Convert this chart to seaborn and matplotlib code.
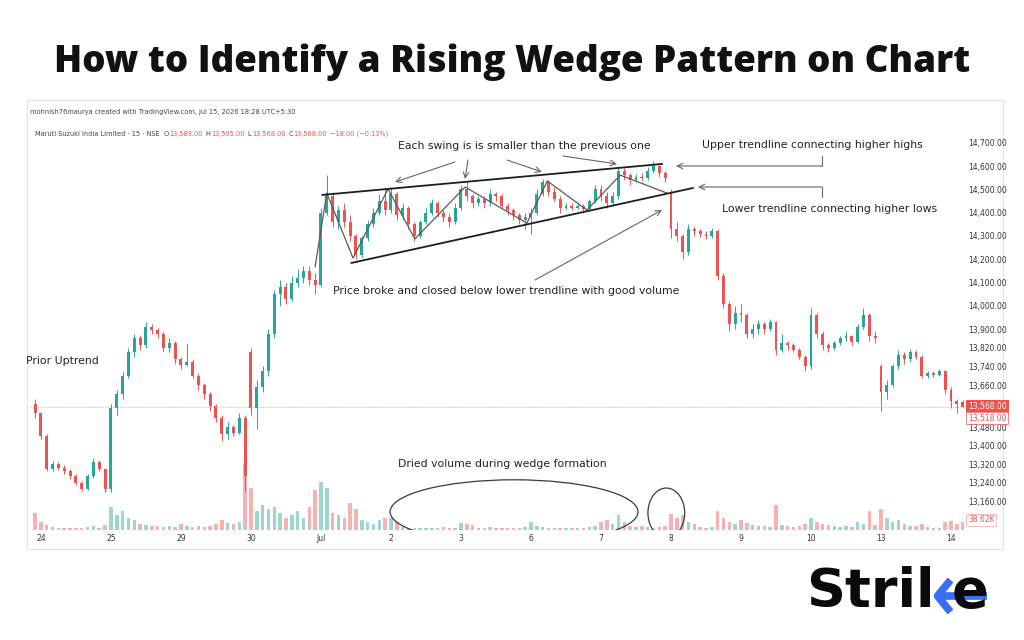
import numpy as np
import pandas as pd
import seaborn as sns
import matplotlib.pyplot as plt
from matplotlib.patches import Ellipse, Rectangle
from matplotlib.lines import Line2D

sns.set_style('white')
plt.rcParams['font.family'] = ['DejaVu Sans']

W, H = 1024, 640

# ---- data (15-min candles, 12 per session shown) ----
day_labels = ['24', '25', '29', '30', 'Jul', '2', '3', '6', '7', '8', '9', '10', '13', '14']
candles_per_day = 12

closes = [13540,
          13440, 13300, 13320, 13305, 13290, 13270, 13240, 13215, 13270, 13330, 13300, 13215,
          13560, 13620, 13700, 13800, 13860, 13830, 13910, 13895, 13880, 13820, 13840, 13770,
          13745, 13760, 13700, 13660, 13620, 13570, 13520, 13450, 13480, 13455, 13520, 13270,
          13560, 13650, 13720, 13880, 14050, 14080, 14030, 14100, 14120, 14150, 14110, 14090,
          14400, 14470, 14360, 14410, 14360, 14300, 14220, 14290, 14350, 14400, 14450, 14410,
          14480, 14390, 14420, 14350, 14300, 14360, 14400, 14440, 14400, 14380, 14360, 14420,
          14500, 14470, 14440, 14460, 14440, 14480, 14470, 14430, 14410, 14390, 14370, 14380,
          14400, 14480, 14530, 14490, 14460, 14420, 14430, 14420, 14430, 14415, 14450, 14500,
          14470, 14440, 14470, 14580, 14560, 14540, 14555, 14550, 14580, 14600, 14570, 14550,
          14330, 14300, 14230, 14330, 14320, 14310, 14300, 14320, 14130, 14010, 13920, 13970,
          13960, 13880, 13900, 13920, 13900, 13930, 13810, 13840, 13830, 13810, 13780, 13740,
          13960, 13880, 13830, 13820, 13840, 13860, 13870, 13845, 13910, 13960, 13870, 13860,
          13630, 13660, 13740, 13790, 13770, 13800, 13780, 13700, 13710, 13705, 13720, 13640,
          13590, 13580, 13568]
highs = [13600,
         13545, 13450, 13335, 13330, 13315, 13300, 13280, 13250, 13280, 13345, 13340, 13300,
         13580, 13640, 13720, 13820, 13880, 13875, 13930, 13920, 13905, 13890, 13860, 13850,
         13780, 13840, 13770, 13710, 13670, 13630, 13580, 13530, 13500, 13490, 13540, 13530,
         13820, 13680, 13740, 13900, 14070, 14110, 14100, 14130, 14160, 14170, 14170, 14140,
         14420, 14560, 14490, 14430, 14440, 14390, 14310, 14300, 14370, 14420, 14480, 14500,
         14510, 14490, 14440, 14430, 14360, 14370, 14420, 14460, 14450, 14410, 14400, 14440,
         14520, 14530, 14480, 14470, 14470, 14500, 14490, 14480, 14440, 14420, 14400, 14400,
         14420, 14500, 14545, 14540, 14510, 14470, 14440, 14440, 14440, 14435, 14460, 14520,
         14520, 14490, 14490, 14600, 14590, 14570, 14565, 14570, 14595, 14620, 14605, 14580,
         14500, 14360, 14310, 14350, 14340, 14330, 14320, 14335, 14330, 14140, 14020, 14000,
         14010, 13970, 13920, 13940, 13930, 13945, 13935, 13880, 13850, 13840, 13820, 13790,
         13990, 13970, 13890, 13840, 13850, 13870, 13890, 13875, 13920, 13990, 13970, 13890,
         13750, 13680, 13750, 13810, 13800, 13815, 13810, 13790, 13720, 13720, 13730, 13725,
         13650, 13600, 13595]
lows = [13520,
        13430, 13290, 13290, 13295, 13280, 13255, 13230, 13205, 13210, 13260, 13290, 13200,
        13200, 13530, 13600, 13690, 13780, 13810, 13820, 13880, 13860, 13800, 13800, 13750,
        13730, 13740, 13690, 13640, 13600, 13550, 13500, 13420, 13430, 13440, 13450, 13200,
        13530, 13470, 13630, 13700, 13860, 14000, 14010, 14020, 14080, 14100, 14090, 14050,
        14080, 14390, 14340, 14330, 14340, 14280, 14200, 14210, 14280, 14340, 14390, 14390,
        14400, 14370, 14370, 14330, 14280, 14290, 14350, 14390, 14380, 14360, 14340, 14350,
        14410, 14450, 14420, 14430, 14420, 14430, 14450, 14420, 14390, 14370, 14350, 14330,
        14310, 14390, 14470, 14470, 14450, 14400, 14410, 14410, 14415, 14400, 14405, 14440,
        14450, 14420, 14430, 14460, 14540, 14520, 14530, 14535, 14540, 14570, 14555, 14530,
        14290, 14280, 14200, 14220, 14300, 14295, 14285, 14290, 14110, 13990, 13890, 13900,
        13930, 13860, 13860, 13880, 13880, 13890, 13790, 13800, 13810, 13800, 13770, 13720,
        13730, 13860, 13810, 13800, 13810, 13830, 13850, 13830, 13840, 13900, 13850, 13840,
        13550, 13600, 13650, 13730, 13750, 13760, 13770, 13690, 13690, 13695, 13700, 13620,
        13560, 13540, 13568]
gap_opens = {0: 13580, 37: 13800, 109: 14490, 145: 13740, 159: 13589}
volumes = [80,
           40, 25, 15, 10, 10, 12, 10, 10, 15, 20, 12, 25,
           110, 70, 90, 60, 50, 30, 25, 20, 20, 15, 20, 15,
           30, 20, 15, 20, 15, 20, 30, 50, 35, 30, 40, 320,
           200, 90, 120, 100, 110, 80, 60, 70, 90, 60, 110, 190,
           230, 200, 80, 70, 60, 130, 100, 50, 40, 30, 50, 60,
           60, 40, 15, 10, 12, 10, 8, 10, 12, 15, 10, 12,
           35, 30, 25, 10, 12, 15, 10, 8, 12, 8, 10, 15,
           40, 20, 15, 10, 10, 8, 12, 10, 8, 10, 15, 20,
           40, 50, 30, 70, 40, 20, 15, 20, 15, 10, 15, 20,
           75, 60, 70, 40, 30, 15, 10, 15, 90, 60, 40, 30,
           50, 35, 25, 20, 20, 15, 120, 25, 20, 15, 20, 30,
           60, 40, 30, 25, 20, 15, 20, 15, 40, 30, 90, 25,
           100, 60, 40, 50, 30, 20, 20, 30, 15, 10, 12, 40,
           45, 30, 38.62]

price_ticks = [14700, 14600, 14500, 14400, 14300, 14200, 14100, 14000, 13900,
               13820, 13740, 13660, 13480, 13400, 13320, 13240, 13160]

# swing annotation (drawn by the author on top of the chart)
swing_x = [48, 50, 54.5, 60.5, 65.1, 73.7, 84.3, 87.8, 94.6, 100.3, 108.3]
swing_y = [14167, 14484, 14205, 14502, 14287, 14510, 14355, 14536, 14411, 14561, 14484]
upper_x, upper_y = [49.2, 107.5], [14476, 14609]
lower_x, lower_y = [54.2, 112.8], [14184, 14506]

df = pd.DataFrame({'close': closes, 'high': highs, 'low': lows, 'volume': volumes})
df['idx'] = np.arange(len(df))
df['open'] = df['close'].shift(1)
for k, v in gap_opens.items():
    df.loc[k, 'open'] = v
df['up'] = df['close'] >= df['open']

UP, DN = '#26a69a', '#ef5350'
col = np.where(df['up'], UP, DN)

fig = plt.figure(figsize=(W / 100, H / 100), dpi=100)
fig.patch.set_facecolor('white')


def rect(x0, y0, x1, y1):
    return [x0 / W, 1 - y1 / H, (x1 - x0) / W, (y1 - y0) / H]


def fp(x, y):
    return (x, H - y)


# panel border
fig.add_artist(Rectangle((27 / W, 1 - 549 / H), (1003 - 27) / W, (549 - 100) / H,
                         transform=fig.transFigure, fill=False, ec='#e4e4e4', lw=0.8))

ax = fig.add_axes(rect(30, 122, 965, 530))
axv = ax.twinx()
ax.set_zorder(axv.get_zorder() + 1)
ax.patch.set_visible(False)

# volume
axv.bar(df['idx'], df['volume'], width=0.6, color=col, alpha=0.45, linewidth=0)
axv.set_ylim(0, 1960)
axv.set_yticks([])
for s in axv.spines.values():
    s.set_visible(False)

# candles
ax.vlines(df['idx'], df['low'], df['high'], colors=col, lw=0.7)
body_lo = np.minimum(df['open'], df['close'])
body_h = np.maximum(np.abs(df['close'] - df['open']), 3)
ax.bar(df['idx'], body_h, bottom=body_lo, width=0.5, color=col, linewidth=0)

ax.axhline(13568, color='#f08a8a', lw=0.6, ls=(0, (1.5, 1.5)), alpha=0.8)

# wedge annotation lines
sns.lineplot(x=swing_x, y=swing_y, ax=ax, color='#5a5a5a', lw=0.9, sort=False)
sns.lineplot(x=upper_x, y=upper_y, ax=ax, color='#1e1e1e', lw=1.3)
sns.lineplot(x=lower_x, y=lower_y, ax=ax, color='#1e1e1e', lw=1.3)

ax.add_patch(Ellipse((82.1, 13116), 42.5, 275, fill=False, ec='#3a3a3a', lw=0.9))
ax.add_patch(Ellipse((108.2, 13111), 6.3, 214, fill=False, ec='#3a3a3a', lw=0.9))

ax.set_xlim(-0.87, 159.4)
ax.set_ylim(13038, 14789)
day_starts = [1 + candles_per_day * k for k in range(len(day_labels))]
ax.set_xticks(day_starts, day_labels)
ax.yaxis.tick_right()
ax.set_yticks(price_ticks, [f'{v:,.2f}' for v in price_ticks])
ax.tick_params(length=0, labelsize=5.5, colors='#333333', pad=3)
ax.tick_params(axis='y', pad=2)
for s in ax.spines.values():
    s.set_visible(False)
ax.grid(False)

# ---- texts ----
fig.text(0.5, 1 - 62 / H, 'How to Identify a Rising Wedge Pattern on Chart',
         ha='center', va='center', fontsize=26.5, fontweight='heavy', color='#111111',
         family='Open Sans')

fig.text(30 / W, 1 - 112 / H, 'mohnish76maurya created with TradingView.com, Jul 15, 2026 18:28 UTC+5:30',
         fontsize=4.8, color='#444444', va='center')

renderer = fig.canvas.get_renderer()


def pieces(x, y, parts, **kw):
    for s, c, gap in parts:
        t = fig.text(x / W, 1 - y / H, s, color=c, va='center', **kw)
        x += t.get_window_extent(renderer=renderer).width + gap
    return x


pieces(35, 134, [('Maruti Suzuki India Limited · 15 · NSE', '#444444', 4),
                 ('O', '#444444', 0.5), ('13,589.00', DN, 3),
                 ('H', '#444444', 0.5), ('13,595.00', DN, 3),
                 ('L', '#444444', 0.5), ('13,568.00', DN, 3),
                 ('C', '#444444', 0.5), ('13,568.00', DN, 3),
                 ('−18.00 (−0.13%)', DN, 0)], fontsize=4.8)

afs = 7.8
tcol = '#222222'
fig.text(398 / W, 1 - 146 / H, 'Each swing is is smaller than the previous one', fontsize=afs, color=tcol, va='center')
fig.text(702 / W, 1 - 145 / H, 'Upper trendline connecting higher highs', fontsize=afs, color=tcol, va='center')
fig.text(722 / W, 1 - 209 / H, 'Lower trendline connecting higher lows', fontsize=afs, color=tcol, va='center')
fig.text(333 / W, 1 - 291 / H, 'Price broke and closed below lower trendline with good volume',
         fontsize=afs, color=tcol, va='center')
fig.text(26 / W, 1 - 361 / H, 'Prior Uptrend', fontsize=afs, color=tcol, va='center')
fig.text(398 / W, 1 - 464 / H, 'Dried volume during wedge formation', fontsize=afs, color=tcol, va='center')

arr = dict(arrowstyle='->', color='#666666', lw=0.8, shrinkA=0, shrinkB=0)
for tail, head in [((455, 162), (395, 182)), ((468, 160), (465, 179)),
                   ((507, 160), (542, 172)), ((563, 156), (617, 164)),
                   ((535, 280), (662, 210)),
                   ((822, 166), (676, 166)), ((822, 187), (698, 187))]:
    ax.annotate('', xy=fp(*head), xytext=fp(*tail), xycoords='figure pixels',
                textcoords='figure pixels', arrowprops=arr, annotation_clip=False)
for xs, ys in [([822, 822], [156, 166]), ([822, 822], [187, 197])]:
    fig.add_artist(Line2D([x / W for x in xs], [1 - y / H for y in ys],
                          transform=fig.transFigure, color='#666666', lw=0.8))

# right-hand price tags
fig.text(968 / W, 1 - 406 / H, '13,568.00', fontsize=5.5, color='white', va='center',
         bbox=dict(boxstyle='square,pad=0.25', fc=DN, ec='none'))
fig.text(968 / W, 1 - 418 / H, '13,518.00', fontsize=5.5, color=DN, va='center',
         bbox=dict(boxstyle='square,pad=0.2', fc='white', ec=DN, lw=0.5))
fig.text(968 / W, 1 - 520 / H, '38.62K', fontsize=5.5, color=DN, va='center',
         bbox=dict(boxstyle='square,pad=0.2', fc='white', ec='#f4a3a3', lw=0.5))

# logo
lx = pieces(806, 592, [('Stril', '#0a0a0a', 17)], fontsize=39, fontweight='bold')
t = fig.text(lx / W, 1 - 592 / H, 'e', fontsize=39, fontweight='bold', color='#0a0a0a', va='center')
ex = t.get_window_extent(renderer=renderer)
blue = '#3b6ef5'
fig.add_artist(Line2D([(lx - 1) / W, (lx - 14) / W, (lx - 1) / W],
                      [1 - 580 / H, 1 - 596 / H, 1 - 612 / H],
                      transform=fig.transFigure, color=blue, lw=5.5, solid_capstyle='butt'))
fig.add_artist(Line2D([(lx - 12) / W, (ex.x1 - 1) / W], [1 - 596 / H, 1 - 596 / H],
                      transform=fig.transFigure, color=blue, lw=5.5, solid_capstyle='butt'))

fig.savefig('out.png', dpi=100, facecolor='white')
